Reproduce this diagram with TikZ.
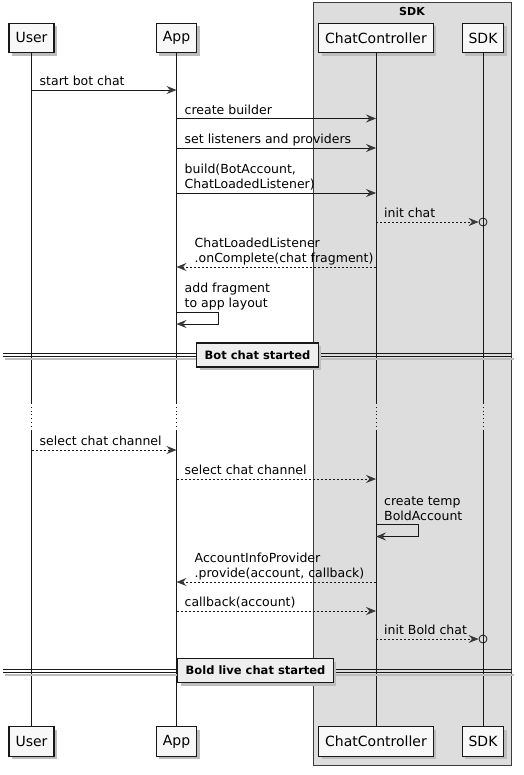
\documentclass[tikz,border=0pt]{standalone}
\usepackage{fontspec}
\setmainfont{DejaVu Sans}
\usetikzlibrary{arrows.meta,shadows,calc}
\definecolor{lineC}{HTML}{181818}
\definecolor{boxfill}{HTML}{F8F8F8}
\definecolor{grpfill}{HTML}{DDDDDD}
\definecolor{divfill}{HTML}{EEEEEE}
\definecolor{tipC}{HTML}{383838}
\definecolor{shadowC}{HTML}{BDBDBD}
\tikzset{
  part/.style={draw=lineC, line width=1.1pt, fill=boxfill, font=\fontsize{14}{16}\selectfont,
    inner xsep=6.5pt, inner ysep=0pt, minimum height=29.3pt,
    drop shadow={shadow xshift=3pt, shadow yshift=-3pt, fill=shadowC, draw=none, opacity=1}},
  life/.style={draw=lineC, line width=0.8pt},
  delay/.style={draw=lineC, line width=0.8pt, dash pattern=on 0.8pt off 3pt},
  msg/.style={draw=lineC, line width=0.8pt, -{Stealth[length=10pt,width=8pt,inset=3.5pt,color=tipC]}},
  dmsg/.style={msg, dash pattern=on 2pt off 2pt},
  lbl/.style={font=\fontsize{12.5}{15}\selectfont, inner sep=0pt, align=left, anchor=south west,
    execute at end node=\strut},
  circ/.style={circle, draw=lineC, line width=0.8pt, minimum size=8pt, inner sep=0pt},
  divline/.style={draw=lineC, line width=0.9pt},
  divshadow/.style={draw=shadowC, line width=2.5pt},
  divbox/.style={draw=lineC, line width=1.5pt, fill=divfill, font=\fontsize{11.5}{14}\selectfont\bfseries,
    inner xsep=8pt, inner ysep=0pt, minimum height=24pt,
    drop shadow={shadow xshift=3pt, shadow yshift=-3pt, fill=shadowC, draw=none, opacity=1}},
  grp/.style={draw=lineC!85, line width=1pt, fill=grpfill},
  grptitle/.style={font=\fontsize{11}{12}\selectfont\bfseries, inner sep=0pt}
}
\begin{document}
\begin{tikzpicture}[x=1pt, y=-1pt]
\useasboundingbox (0,0) rectangle (523,775);
% group box
\draw[grp] (313,3) rectangle (511,765);
\node[grptitle] (gt) at (412,12) {SDK};
% participants
\node[part] (U) at (31.5,38) {User};
\node[part] (A) at (176.5,38) {App};
\node[part] (C) at (376,38) {ChatController};
\node[part] (S) at (483,38) {SDK};
\node[part] (Ub) at (31.5,741.5) {User};
\node[part] (Ab) at (176.5,741.5) {App};
\node[part] (Cb) at (376,741.5) {ChatController};
\node[part] (Sb) at (483,741.5) {SDK};
% lifelines
\foreach \t/\b in {U/Ub, A/Ab, C/Cb, S/Sb}{
  \draw[life] (\t.south) -- (\t |- 0,403);
  \draw[delay] (\t |- 0,403) -- (\t |- 0,430);
  \draw[life] (\t |- 0,430) -- (\b.north);
}
% messages
\draw[msg] (U |- 0,90) -- (A |- 0,90);
\node[lbl] at ($(U |- 0,90)+(8,0.5)$) {start bot chat};
\draw[msg] (A |- 0,118.5) -- (C |- 0,118.5);
\node[lbl] at ($(A |- 0,118.5)+(8,0.5)$) {create builder};
\draw[msg] (A |- 0,148) -- (C |- 0,148);
\node[lbl] at ($(A |- 0,148)+(8,0.5)$) {set listeners and providers};
\draw[msg] (A |- 0,193) -- (C |- 0,193);
\node[lbl] at ($(A |- 0,193)+(8,0.5)$) {build(BotAccount,\\ChatLoadedListener)};
\node[circ] (o1) at (S |- 0,222) {};
\draw[dmsg] (C |- o1) -- (o1.west);
\node[lbl] at ($(C |- 0,222)+(8,0.5)$) {init chat};
\draw[dmsg] (C |- 0,267) -- (A |- 0,267);
\node[lbl] at ($(A |- 0,267)+(18,0.5)$) {ChatLoadedListener\\.onComplete(chat fragment)};
\draw[msg] (A |- 0,312) -- ++(42,0) -- ++(0,12) -- (A |- 0,324);
\node[lbl] at ($(A |- 0,312)+(8,0.5)$) {add fragment\\to app layout};
% divider 1
\draw[divshadow] (5,359) -- (514,359);
\draw[divline] (3,353.3) -- (512,353.3);
\draw[divline] (3,356.2) -- (512,356.2);
\node[divbox] (d1) at (257.5,355) {Bot chat started};
% second part
\draw[dmsg] (U |- 0,450) -- (A |- 0,450);
\node[lbl] at ($(U |- 0,450)+(8,0.5)$) {select chat channel};
\draw[dmsg] (A |- 0,479) -- (C |- 0,479);
\node[lbl] at ($(A |- 0,479)+(8,0.5)$) {select chat channel};
\draw[msg] (C |- 0,524.5) -- ++(42,0) -- ++(0,12) -- (C |- 0,536.5);
\node[lbl] at ($(C |- 0,524.5)+(8,0.5)$) {create temp\\BoldAccount};
\draw[dmsg] (C |- 0,582) -- (A |- 0,582);
\node[lbl] at ($(A |- 0,582)+(18,0.5)$) {AccountInfoProvider\\.provide(account, callback)};
\draw[dmsg] (A |- 0,611) -- (C |- 0,611);
\node[lbl] at ($(A |- 0,611)+(8,0.5)$) {callback(account)};
\node[circ] (o2) at (S |- 0,639) {};
\draw[dmsg] (C |- o2) -- (o2.west);
\node[lbl] at ($(C |- 0,639)+(8,0.5)$) {init Bold chat};
% divider 2
\draw[divshadow] (5,675) -- (514,675);
\draw[divline] (3,669.3) -- (512,669.3);
\draw[divline] (3,672.2) -- (512,672.2);
\node[divbox] (d2) at (255.5,670.5) {Bold live chat started};
\end{tikzpicture}
\end{document}
